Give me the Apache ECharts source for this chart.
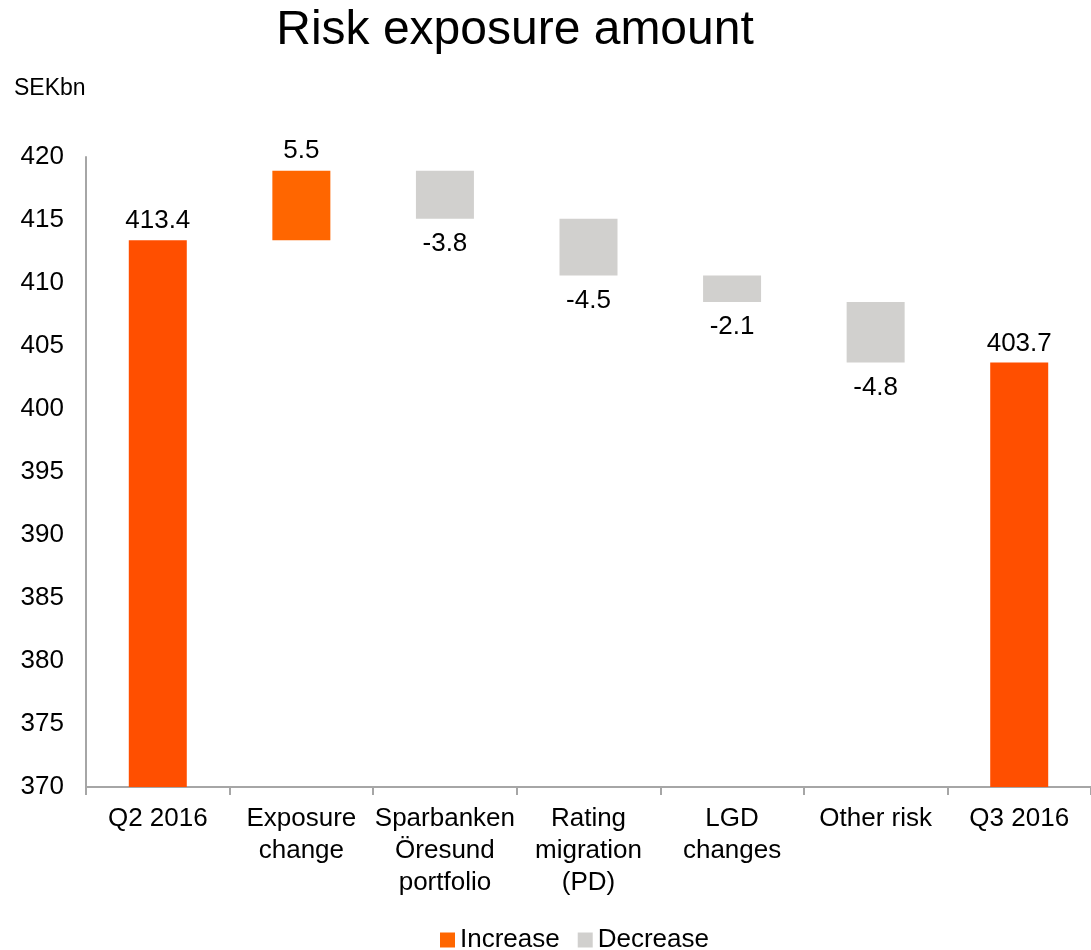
<!DOCTYPE html>
<html>
<head>
<meta charset="utf-8">
<title>Risk exposure amount</title>
<script src="https://cdn.jsdelivr.net/npm/echarts@6/dist/echarts.min.js"></script>
<style>
  html, body { margin: 0; padding: 0; background: #ffffff; }
  #chart { width: 1091px; height: 950px; }
</style>
</head>
<body>
<div id="chart"></div>
<script>
// Waterfall of risk exposure amount, SEKbn
const categories = ['Q2 2016', 'Exposure\nchange', 'Sparbanken\nÖresund\nportfolio', 'Rating\nmigration\n(PD)', 'LGD\nchanges', 'Other risk', 'Q3 2016'];
const startValue = 413.4;
const changes = [5.5, -3.8, -4.5, -2.1, -4.8];
const endValue = 403.7;
const yTicks = { min: 370, max: 420, interval: 5 };

const FONT = '"Liberation Sans", Arial, sans-serif';
const TOTAL_COLOR = '#FF4F00';
const UP_COLOR = '#FF6600';
const DOWN_COLOR = '#D1D0CE';

// Build the invisible base and the visible segments from the running total
const baseData = ['-'];
const totalData = [startValue];
const upData = ['-'];
const downData = ['-'];
let running = startValue;
changes.forEach(function (c) {
  const next = running + c;
  baseData.push(Math.min(running, next));
  totalData.push('-');
  if (c >= 0) { upData.push(c); downData.push('-'); }
  else { upData.push('-'); downData.push(-c); }
  running = next;
});
baseData.push('-');
totalData.push(endValue);
upData.push('-');
downData.push('-');

const labelStyle = { color: '#000', fontSize: 26, fontFamily: FONT };

const chart = echarts.init(document.getElementById('chart'), null, { renderer: 'canvas' });
chart.setOption({
  animation: false,
  backgroundColor: '#ffffff',
  textStyle: { fontFamily: FONT },
  title: {
    text: 'Risk exposure amount',
    left: 510,
    textAlign: 'center',
    top: 2,
    textStyle: { fontSize: 48, fontWeight: 'normal', color: '#000', fontFamily: FONT }
  },
  graphic: [{
    type: 'text',
    left: 14,
    top: 77,
    style: { text: 'SEKbn', fill: '#000', font: '23px ' + FONT }
  }],
  legend: {
    data: ['Increase', 'Decrease'],
    top: 922,
    left: 435,
    itemWidth: 15,
    itemHeight: 15,
    itemGap: 18,
    icon: 'rect',
    textStyle: { fontSize: 26, color: '#000', fontFamily: FONT, padding: [0, 0, 0, 0] }
  },
  grid: { left: 86, top: 157, height: 630, width: 1011.5 },
  xAxis: {
    type: 'category',
    data: categories,
    axisLine: { lineStyle: { color: '#A6A6A6', width: 2 } },
    axisTick: { show: true, length: 8, alignWithLabel: false, lineStyle: { color: '#A6A6A6', width: 2 } },
    axisLabel: { color: '#000', fontSize: 26, fontFamily: FONT, lineHeight: 32, margin: 16, interval: 0 }
  },
  yAxis: {
    type: 'value',
    min: yTicks.min,
    max: yTicks.max,
    interval: yTicks.interval,
    splitLine: { show: false },
    axisTick: { show: false },
    axisLine: { show: true, lineStyle: { color: '#A6A6A6', width: 2 } },
    axisLabel: { color: '#000', fontSize: 26, fontFamily: FONT, margin: 22 }
  },
  series: [
    {
      name: 'base', type: 'bar', stack: 'w', barWidth: 58,
      itemStyle: { color: 'transparent' },
      emphasis: { disabled: true },
      data: baseData
    },
    {
      name: 'Total', type: 'bar', stack: 'w', barWidth: 58,
      itemStyle: { color: TOTAL_COLOR },
      label: Object.assign({ show: true, position: 'top', distance: 6,
        formatter: function (p) { return p.value.toFixed(1); } }, labelStyle),
      data: totalData
    },
    {
      name: 'Increase', type: 'bar', stack: 'w', barWidth: 58,
      itemStyle: { color: UP_COLOR },
      label: Object.assign({ show: true, position: 'top', distance: 7,
        formatter: function (p) { return changes[p.dataIndex - 1].toFixed(1); } }, labelStyle),
      data: upData
    },
    {
      name: 'Decrease', type: 'bar', stack: 'w', barWidth: 58,
      itemStyle: { color: DOWN_COLOR },
      label: Object.assign({ show: true, position: 'bottom', distance: 12,
        formatter: function (p) { return changes[p.dataIndex - 1].toFixed(1); } }, labelStyle),
      data: downData
    }
  ]
});
</script>
</body>
</html>
